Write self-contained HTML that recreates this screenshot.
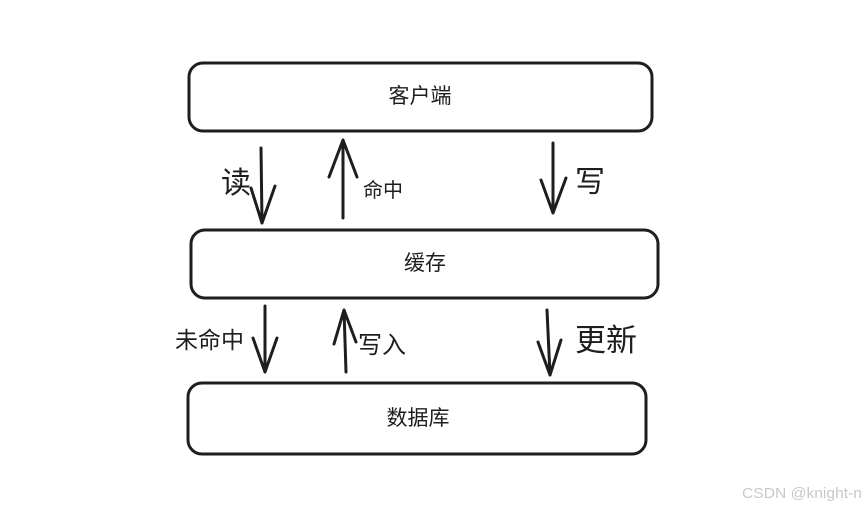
<!DOCTYPE html>
<html><head><meta charset="utf-8"><style>
html,body{margin:0;padding:0;background:#fff;}
svg{display:block}
text{font-family:"Liberation Sans","Noto Sans CJK SC",sans-serif;fill:#1e1e1e}
</style></head><body>
<svg width="866" height="507" viewBox="0 0 866 507">
<g fill="none" stroke="#1e1e1e" stroke-width="3" stroke-linecap="round" stroke-linejoin="round">
<rect x="189" y="63" width="463" height="68" rx="14"/>
<rect x="191" y="230" width="467" height="68" rx="14"/>
<rect x="188" y="383" width="458" height="71" rx="14"/>
<path d="M261 148 L262 223 M251 188 L262 223 L275 186"/>
<path d="M343 218 L343 140 M329 177 L343 140 L357 177"/>
<path d="M553 143 L553 213 M541 180 L553 213 L566 178"/>
<path d="M265 306 L265 372 M253 338 L265 372 L277 338"/>
<path d="M346 372 L344 310 M334 344 L344 310 L356 342"/>
<path d="M547 310 L550 375 M538 342 L550 375 L561 340"/>
</g>
<text x="420" y="103" font-size="21" text-anchor="middle">客户端</text>
<text x="425" y="270" font-size="21" text-anchor="middle">缓存</text>
<text x="418" y="425" font-size="21" text-anchor="middle">数据库</text>
<text x="221" y="193" font-size="30">读</text>
<text x="363" y="197" font-size="20">命中</text>
<text x="575" y="192" font-size="30">写</text>
<text x="175" y="348" font-size="23">未命中</text>
<text x="358" y="353" font-size="24">写入</text>
<text x="575" y="351" font-size="31">更新</text>
<text x="742" y="498" font-size="15" textLength="120" lengthAdjust="spacingAndGlyphs" style="fill:#c8c8c8">CSDN @knight-n</text>
</svg>
</body></html>
